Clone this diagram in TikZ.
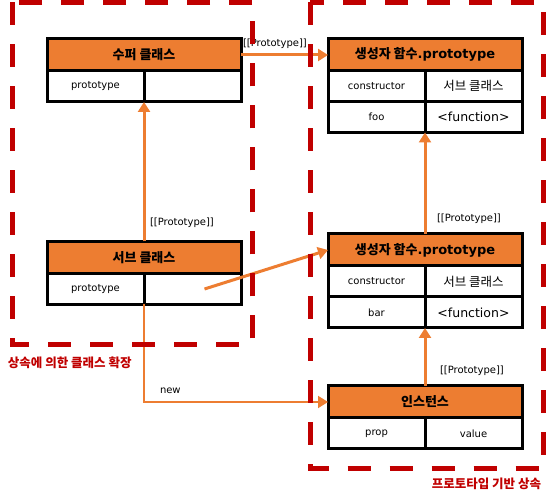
\documentclass[tikz,border=0pt]{standalone}
\usepackage{fontspec}
\setmainfont{DejaVu Sans}
\newfontfamily\kr{Noto Sans CJK KR}
\usetikzlibrary{arrows.meta,positioning}
\definecolor{boxorange}{HTML}{ED7D31}
\definecolor{areared}{HTML}{C00000}

\begin{document}
\begin{tikzpicture}[
  x=1pt, y=1pt,
  every node/.style={inner sep=0pt, outer sep=0pt},
  head/.style={draw, line width=3pt, fill=boxorange, minimum width=194pt,
               minimum height=32pt, font=\fontsize{13}{15}\selectfont\bfseries},
  cell/.style={draw, line width=3pt, fill=white, minimum width=97pt,
               minimum height=31pt, font=\fontsize{10}{12}\selectfont},
  big/.style={font=\fontsize{12.5}{15}\selectfont},
  link/.style={draw=boxorange, line width=3pt, -{Triangle[length=10pt,width=12pt]}},
  tag/.style={font=\fontsize{10}{12}\selectfont, anchor=west},
  area/.style={draw=areared, line width=5pt, dash pattern=on 23pt off 19pt},
  areaname/.style={text=areared, font=\kr\fontsize{12.5}{15}\selectfont\bfseries},
]
  \useasboundingbox (0,0) rectangle (557,500);

  % super class
  \node[head] (sup) at (144,445) {{\kr 수퍼 클래스}};
  \node[cell, anchor=north west] (supk) at (sup.south west) {prototype};
  \node[cell, right=0pt of supk] (supv) {};

  % sub class
  \node[head] (sub) at (144,242.5) {{\kr 서브 클래스}};
  \node[cell, anchor=north west] (subk) at (sub.south west) {prototype};
  \node[cell, right=0pt of subk] (subv) {};

  % prototype of the super constructor
  \node[head] (tph) at (425,445.5) {{\kr 생성자 함수}.prototype};
  \node[cell, anchor=north west] (tpc) at (tph.south west) {constructor};
  \node[cell, big, right=0pt of tpc] (tpcv) {\kr 서브 클래스};
  \node[cell, below=0pt of tpc] (tpf) {foo};
  \node[cell, big, right=0pt of tpf] (tpfv) {<function>};

  % prototype of the sub constructor
  \node[head] (mph) at (425,250) {{\kr 생성자 함수}.prototype};
  \node[cell, anchor=north west] (mpc) at (mph.south west) {constructor};
  \node[cell, big, right=0pt of mpc] (mpcv) {\kr 서브 클래스};
  \node[cell, below=0pt of mpc] (mpb) {bar};
  \node[cell, big, right=0pt of mpb] (mpbv) {<function>};

  % instance
  \node[head] (inst) at (425,98) {{\kr 인스턴스}};
  \node[cell, anchor=north west] (instk) at (inst.south west) {prop};
  \node[cell, right=0pt of instk] (instv) {value};

  % links
  \coordinate (subref) at ([xshift=12pt]subv.center);
  \coordinate (turn) at (subk.south east |- inst.west);
  \draw[link] (sup.east) -- (sup.east -| tph.west);
  \draw[link] (sub.north) -- (sub.north |- supk.south);
  \draw[link] (subref) -- (mph.west);
  \draw[link] (mph.north) -- (mph.north |- tpf.south);
  \draw[link] (inst.north) -- (inst.north |- mpb.south);
  \draw[link, line width=2pt] (subk.south east) -- (turn) -- (inst.west);

  \node[tag] (tagsup) at ([shift={(2pt,11pt)}]sup.east) {[[Prototype]]};
  \node[tag] (tagsub) at ([shift={(6pt,18.5pt)}]sub.north) {[[Prototype]]};
  \node[tag] (tagmp) at ([shift={(12pt,15pt)}]mph.north) {[[Prototype]]};
  \node[tag] (taginst) at ([shift={(15pt,15pt)}]inst.north) {[[Prototype]]};
  \node[tag] (tagnew) at ([shift={(16pt,11pt)}]turn) {new};

  % dashed areas
  \draw[area] (12,497.5) rectangle (252,155.5);
  \draw[area] (310,497.5) rectangle (543.5,31);
  \node[areaname, anchor=west] (inherit) at (8,137) {상속에 의한 클래스 확장};
  \node[areaname, anchor=east] (protobase) at (541,16) {프로토타입 기반 상속};
\end{tikzpicture}
\end{document}
